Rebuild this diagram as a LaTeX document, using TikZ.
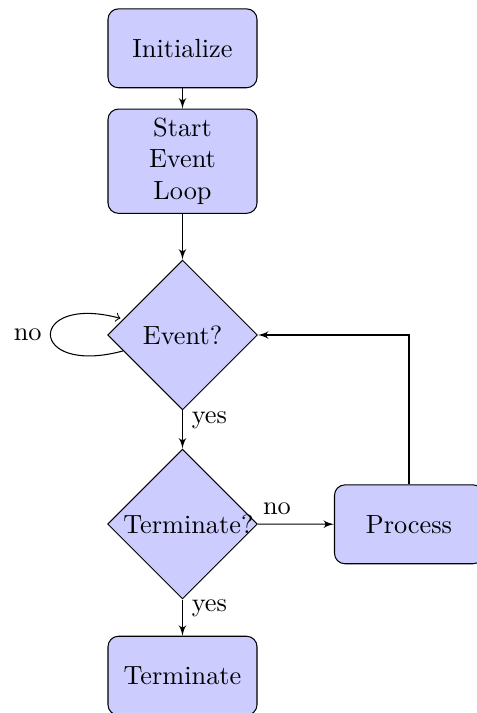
\documentclass[tikz,border=0pt]{standalone}
\usetikzlibrary{shapes.geometric,arrows}
\begin{document}
\begin{tikzpicture}[x=0.3802pt,y=-0.3802pt,
  block/.style={rectangle, draw, fill=blue!20, text width=5em, align=center, rounded corners, minimum height=3em},
  decision/.style={diamond, draw, fill=blue!20, text width=4.5em, align=center, inner sep=0pt, minimum size=57pt},
  line/.style={draw, -latex'},
  lbl/.style={font=\normalsize}]
\useasboundingbox (0,0) rectangle (476,713);
\node[block] (init) at (182.5,48.3) {Initialize};
\node[block] (start) at (182.5,161.2) {Start Event Loop};
\node[decision] (event) at (182.5,335) {Event?};
\node[decision] (termq) at (182.5,524) {Terminate?};
\node[block] (process) at (409,524.3) {Process};
\node[block] (term) at (182.5,675.7) {Terminate};
\path[line] (init) -- (start);
\path[line] (start) -- (event);
\path[line] (event) -- node[near start, right] {yes} (termq);
\path[line] (termq) -- node[near start, right] {yes} (term);
\path[line] (termq) -- node[near start, above] {no} (process);
\path[line] (process) |- (event);
\draw[->] (event) edge[loop left] node[left] {no} (event);
\end{tikzpicture}
\end{document}
